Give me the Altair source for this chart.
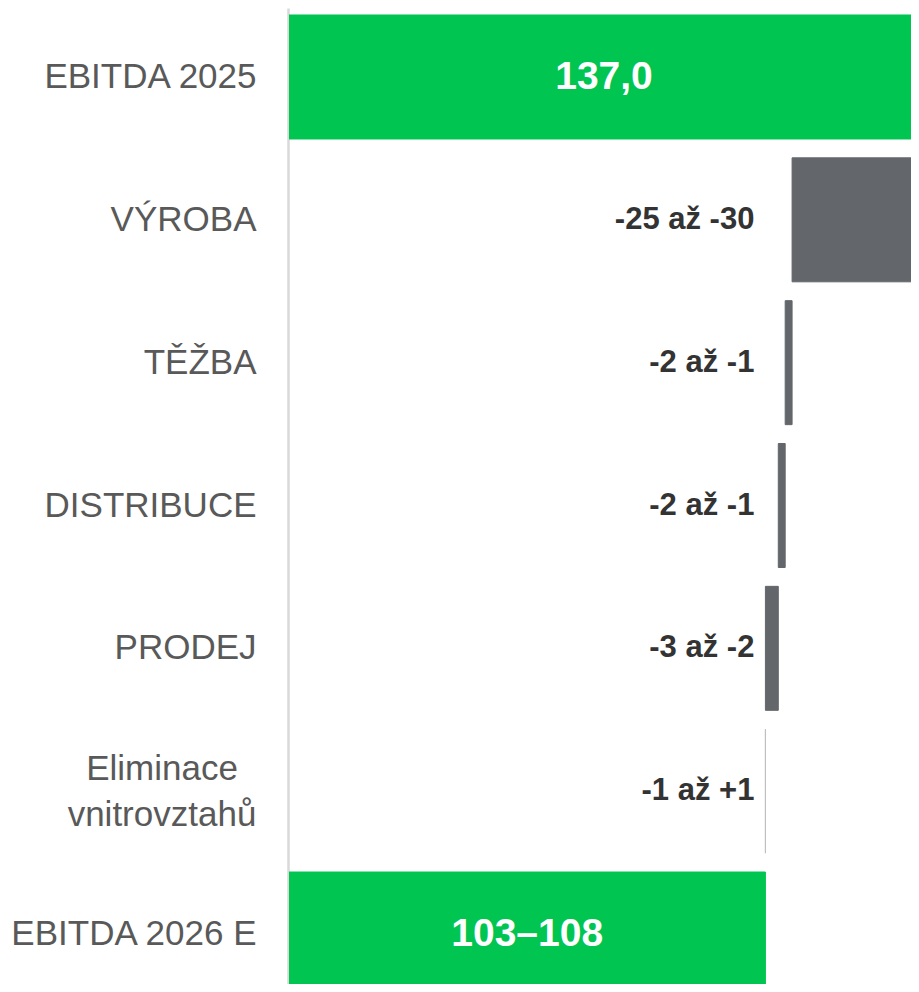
import altair as alt
import pandas as pd

categories = ["EBITDA 2025", "VÝROBA", "TĚŽBA", "DISTRIBUCE", "PRODEJ",
              "Eliminace vnitrovztahů", "EBITDA 2026 E"]
kinds = ["total", "delta", "delta", "delta", "delta", "delta", "total"]
deltas = [137.0, -27.6, -1.5, -1.5, -2.8, 0.0, 0.0]
labels = ["137,0", "-25 až -30", "-2 až -1", "-2 až -1", "-3 až -2", "-1 až +1", "103–108"]

GREEN = "#00C551"
GRAY = "#63666A"
THIN = "#BFBFBF"
XMAX = 137.0            # value at the right edge of the visible picture
PLOT_W = 622
X_DOMAIN_MAX = XMAX * PLOT_W / 630
TWO_LINE = "Eliminace vnitrovztahů"

rows = []
run = 0.0
for cat, kind, d, lab in zip(categories, kinds, deltas, labels):
    if kind == "total" and cat == categories[0]:
        start, end = 0.0, d
        run = d
    elif kind == "total":
        start, end = 0.0, run
    else:
        start, end = run, run + d
        run = run + d
    fill = GREEN if kind == "total" else GRAY
    stroke = fill if (kind == "total" or d != 0) else THIN
    rows.append(dict(cat=cat, kind=kind, start=start, end=end, label=lab,
                     fill=fill, stroke=stroke,
                     catlabel=cat.replace(" ", "\n") if cat == TWO_LINE else cat))

df = pd.DataFrame(rows)
final_val = run
df["mid"] = (df[["start", "end"]].min(axis=1) + df[["start", "end"]].max(axis=1).clip(upper=XMAX)) / 2
df["lblx"] = final_val

y_enc = alt.Y(
    "cat:N",
    sort=categories,
    scale=alt.Scale(range=[0, 995], paddingInner=0.132, paddingOuter=0.049),
    axis=alt.Axis(
        title=None,
        ticks=False,
        labelFont="Liberation Sans",
        labelFontSize=35,
        labelColor="#595959",
        labelPadding=32,
        labelLimit=400,
        offset=1,
        domainColor="#D9D9D9",
        domainWidth=2.5,
        labelExpr=f"datum.value == '{TWO_LINE}' ? '' : datum.label",
    ),
)
x_scale = alt.Scale(domain=[0, X_DOMAIN_MAX], nice=False, zero=False)

base = alt.Chart(df)

bars = base.mark_bar(clip=True, strokeWidth=1).encode(
    y=y_enc,
    x=alt.X("start:Q", scale=x_scale, axis=None),
    x2="end:Q",
    color=alt.Color("fill:N", scale=None),
    stroke=alt.Stroke("stroke:N", scale=None),
)

two_line_label = base.transform_filter(alt.datum.cat == TWO_LINE).mark_text(
    font="Liberation Sans", fontSize=35, color="#595959",
    align="center", baseline="middle", lineBreak="\n", lineHeight=46, dy=-22,
).encode(
    y=alt.Y("cat:N", sort=categories),
    x=alt.value(-127),
    text="catlabel:N",
)

total_text = base.transform_filter(alt.datum.kind == "total").mark_text(
    font="Liberation Sans", fontSize=39, fontWeight="bold", color="white",
    align="center", baseline="middle",
).encode(
    y=alt.Y("cat:N", sort=categories),
    x=alt.X("mid:Q"),
    text="label:N",
)

delta_text = base.transform_filter(alt.datum.kind == "delta").mark_text(
    font="Liberation Sans", fontSize=31, fontWeight="bold", color="#333333",
    align="right", baseline="middle", dx=-11,
).encode(
    y=alt.Y("cat:N", sort=categories),
    x=alt.X("lblx:Q"),
    text="label:N",
)

chart = alt.layer(bars, two_line_label, total_text, delta_text).properties(
    width=PLOT_W,
    height=976,
    autosize=alt.AutoSizeParams(type="none"),
    padding={"left": 281, "top": 0, "right": 0, "bottom": 0},
).configure_view(stroke=None)

chart.save("out.html", embed_options={"renderer": "svg", "actions": False})
